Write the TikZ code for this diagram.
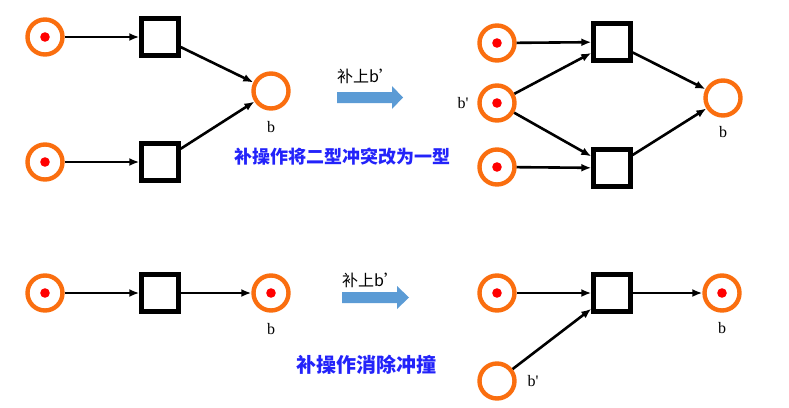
\documentclass[tikz,border=0pt]{standalone}
\usepackage{fontspec}
\setmainfont{Liberation Serif}
\newfontfamily\cjk{Noto Sans CJK SC}
\usetikzlibrary{arrows.meta,positioning}
\definecolor{porange}{RGB}{250,110,15}
\definecolor{fatblue}{RGB}{91,155,213}
\definecolor{capblue}{RGB}{35,35,250}

\begin{document}
\begin{tikzpicture}[x=1pt, y=-1pt, node distance=115pt, on grid,
    place/.style={circle, draw=porange, line width=4.4pt, minimum size=35pt, inner sep=0pt},
    marked/.style={place, path picture={\fill[red] (path picture bounding box.center) circle (4.8pt);}},
    trans/.style={rectangle, draw=black, line width=4.4pt, minimum size=37pt, inner sep=0pt},
    arc/.style={-{Latex[length=10pt,width=8pt]}, line width=2.6pt},
    lab/.style={font=\fontsize{16}{16}\selectfont, inner sep=0pt},
    addlab/.style={font=\cjk\fontsize{16}{16}\selectfont, inner sep=0pt},
    caption/.style={font=\cjk\bfseries\fontsize{18}{18}\selectfont, text=capblue, inner sep=0pt},
    fat/.style={fill=fatblue}
  ]
  \useasboundingbox (0,0) rectangle (789,407);

  \node[marked] (p1) at (45,37) {};
  \node[marked, below=125pt of p1] (p2) {};
  \node[trans, right=of p1] (t1) {};
  \node[trans, right=of p2] (t2) {};
  \node[place] (b1) at (271,91) {};
  \node[lab, below=36pt of b1] (lb1) {b};
  \draw[arc] (p1) -- (t1);
  \draw[arc] (p2) -- (t2);
  \draw[arc] (t1) -- (b1);
  \draw[arc] (t2) -- (b1);

  \fill[fat] (337,92) -- ++(55,0) -- ++(0,-6) -- ++(11,11.5) -- ++(-11,11.5) -- ++(0,-6) -- ++(-55,0) -- cycle;
  \node[addlab] (add1) at (366,76) {补上b’};
  \node[caption] (cap1) at (342,157) {补操作将二型冲突改为一型};

  \node[marked] (p3) at (497,43) {};
  \node[marked, below=60pt of p3] (p4) {};
  \node[marked, below=64pt of p4] (p5) {};
  \node[lab, left=34pt of p4] (lp4) {b\textquotesingle};
  \node[trans] (t3) at (612,42) {};
  \node[trans] (t4) at (612,168) {};
  \node[place] (b2) at (723,98) {};
  \node[lab, below=34pt of b2] (lb2) {b};
  \draw[arc] (p3) -- (t3);
  \draw[arc] (p4) -- (t3);
  \draw[arc] (p4) -- (t4);
  \draw[arc] (p5) -- (t4);
  \draw[arc] (t3) -- (b2);
  \draw[arc] (t4) -- (b2);

  \node[marked] (p6) at (45,293) {};
  \node[trans, right=of p6] (t5) {};
  \node[marked, right=111pt of t5] (p7) {};
  \node[lab, below=36pt of p7] (lb7) {b};
  \draw[arc] (p6) -- (t5);
  \draw[arc] (t5) -- (p7);

  \fill[fat] (342,292) -- ++(55,0) -- ++(0,-6) -- ++(12,11.5) -- ++(-12,11.5) -- ++(0,-6) -- ++(-55,0) -- cycle;
  \node[addlab] (add2) at (371,280) {补上b’};
  \node[caption, font=\cjk\bfseries\fontsize{20}{20}\selectfont] (cap2) at (366,365) {补操作消除冲撞};

  \node[marked] (p8) at (497,293) {};
  \node[trans, right=of p8] (t6) {};
  \node[marked, right=110pt of t6] (p9) {};
  \node[lab, below=35pt of p9] (lb9) {b};
  \node[place, below=88pt of p8] (p10) {};
  \node[lab, right=36pt of p10] (lp10) {b\textquotesingle};
  \draw[arc] (p8) -- (t6);
  \draw[arc] (t6) -- (p9);
  \draw[arc] (p10) -- (t6);
\end{tikzpicture}
\end{document}
